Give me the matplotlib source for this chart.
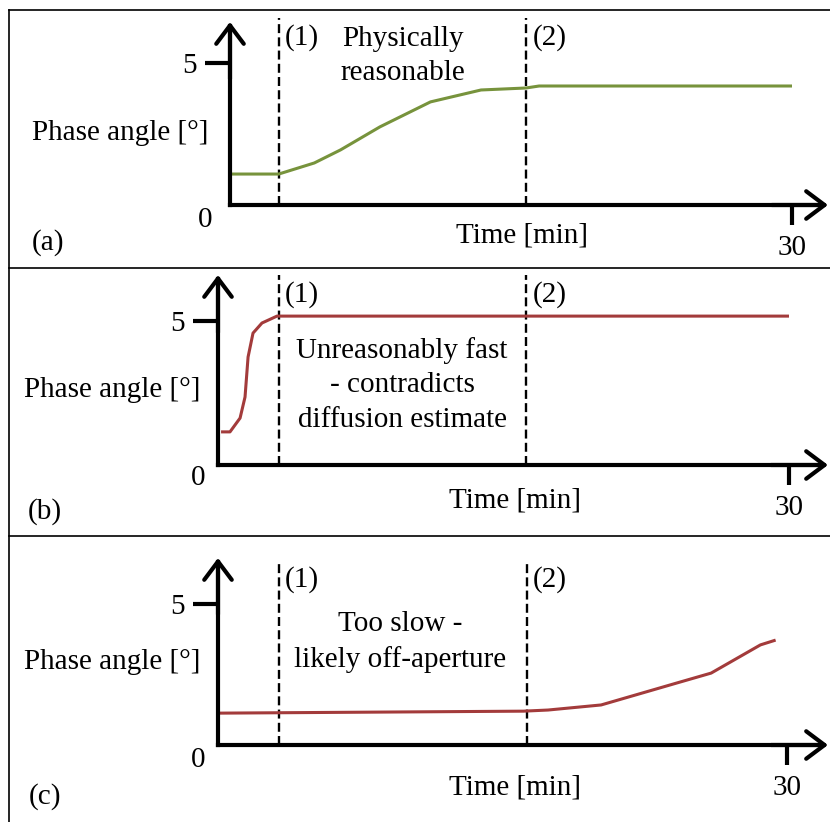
import numpy as np
import matplotlib.pyplot as plt
from matplotlib.lines import Line2D

plt.rcParams['font.family'] = ['Liberation Serif', 'DejaVu Serif']

W, H = 830, 822

# curve data (time in min, phase angle in degrees)
t_a = [0, 2.6, 4.5, 5.9, 8.0, 10.7, 13.4, 15.8, 16.5, 30]
p_a = [1.09, 1.09, 1.48, 1.94, 2.75, 3.63, 4.05, 4.12, 4.19, 4.19]

t_b = [0.16, 0.63, 1.16, 1.42, 1.58, 1.84, 2.31, 3.1, 30]
p_b = [1.15, 1.15, 1.63, 2.36, 3.75, 4.58, 4.93, 5.17, 5.17]

t_c = [0.1, 16.1, 17.4, 20.2, 24.3, 26.0, 28.6, 29.4]
p_c = [1.13, 1.2, 1.24, 1.42, 2.22, 2.55, 3.55, 3.72]

marks_a = [2.6, 15.8]
marks_b = [3.2, 16.2]
marks_c = [3.2, 16.3]

notes = ["Physically\nreasonable",
         "Unreasonably fast\n- contradicts\ndiffusion estimate",
         "Too slow -\nlikely off-aperture"]

green = '#77933C'
red = '#A33B3B'

fig = plt.figure(figsize=(W / 100, H / 100), dpi=100)

FS = 21


def ftext(x, y, s, **kw):
    fig.text(x / W, 1 - y / H, s, ha='center', va='center', fontsize=FS, **kw)


# panels: (x0 px, y0 px, x30 px, y5 px, top of arrow px, dashed top px)
panels = [
    dict(x0=230, y0=205, x30=792, y5=63, ytip=22, dtop=18, t=t_a, p=p_a, c=green, m=marks_a,
         lab=(120, 133), zero=(205, 220), time=(522, 235), tag=('(a)', 48, 243),
         n1=(302, 38), n2=(550, 38), note=(403, 56)),
    dict(x0=218, y0=465, x30=789, y5=321, ytip=275, dtop=275, t=t_b, p=p_b, c=red, m=marks_b,
         lab=(112, 390), zero=(198, 478), time=(515, 500), tag=('(b)', 45, 512),
         n1=(302, 295), n2=(550, 295), note=(402, 385)),
    dict(x0=218, y0=745, x30=787, y5=604, ytip=558, dtop=563, t=t_c, p=p_c, c=red, m=marks_c,
         lab=(112, 662), zero=(198, 760), time=(515, 787), tag=('(c)', 45, 797),
         n1=(302, 580), n2=(550, 580), note=(400, 642)),
]

for i, P in enumerate(panels):
    wpx = P['x30'] - P['x0']
    hpx = P['y0'] - P['y5']
    ax = fig.add_axes([P['x0'] / W, 1 - P['y0'] / H, wpx / W, hpx / H])
    ax.set_xlim(0, 30)
    ax.set_ylim(0, 5)
    for s in ax.spines.values():
        s.set_visible(False)
    ax.patch.set_alpha(0)

    ax.set_xticks([30])
    ax.set_xticklabels(['30'])
    ax.set_yticks([5])
    ax.set_yticklabels(['5'])
    ax.tick_params(axis='x', length=14.5, width=3, direction='out', pad=7, labelsize=FS)
    ax.tick_params(axis='y', length=18, width=3, direction='out', pad=6, labelsize=FS)

    ytop = (P['y0'] - P['dtop']) / hpx * 5
    for xm in P['m']:
        ax.plot([xm, xm], [0, ytop], color='black', lw=1.7, ls=(0, (3.8, 1.8)), clip_on=False)

    ax.plot(P['t'], P['p'], color=P['c'], lw=2.2, clip_on=False, solid_capstyle='butt')

    # axis arrows
    xtip = (828 - P['x0']) / wpx
    ytip = (P['y0'] - P['ytip']) / hpx
    tr = ax.transAxes
    ax.plot([0, xtip - 0.01], [0, 0], color='black', lw=3, transform=tr, clip_on=False,
            solid_capstyle='projecting')
    ax.plot([0, 0], [0, ytip - 0.03], color='black', lw=3, transform=tr, clip_on=False,
            solid_capstyle='projecting')
    arrow = dict(arrowstyle='->,head_length=0.6,head_width=0.45', lw=3, color='black',
                 shrinkA=0, shrinkB=0, mutation_scale=22)
    ax.annotate('', xy=(xtip, 0), xytext=(xtip - 0.1, 0), xycoords='axes fraction',
                arrowprops=arrow, annotation_clip=False)
    ax.annotate('', xy=(0, ytip), xytext=(0, ytip - 0.4), xycoords='axes fraction',
                arrowprops=arrow, annotation_clip=False)

    ftext(*P['lab'], 'Phase angle [°]')
    ftext(*P['zero'], '0')
    ftext(*P['time'], 'Time [min]')
    tag, tx, ty = P['tag']
    ftext(tx, ty, tag)
    ftext(*P['n1'], '(1)')
    ftext(*P['n2'], '(2)')
    ftext(*P['note'], notes[i], linespacing=1.42)

# frame lines
for y in [10, 268, 536]:
    fig.add_artist(Line2D([9 / W, 1], [1 - y / H, 1 - y / H], color='black', lw=1.2))
fig.add_artist(Line2D([9 / W, 9 / W], [1 - 10 / H, 0], color='black', lw=1.2))

fig.savefig('out.png', dpi=100)
